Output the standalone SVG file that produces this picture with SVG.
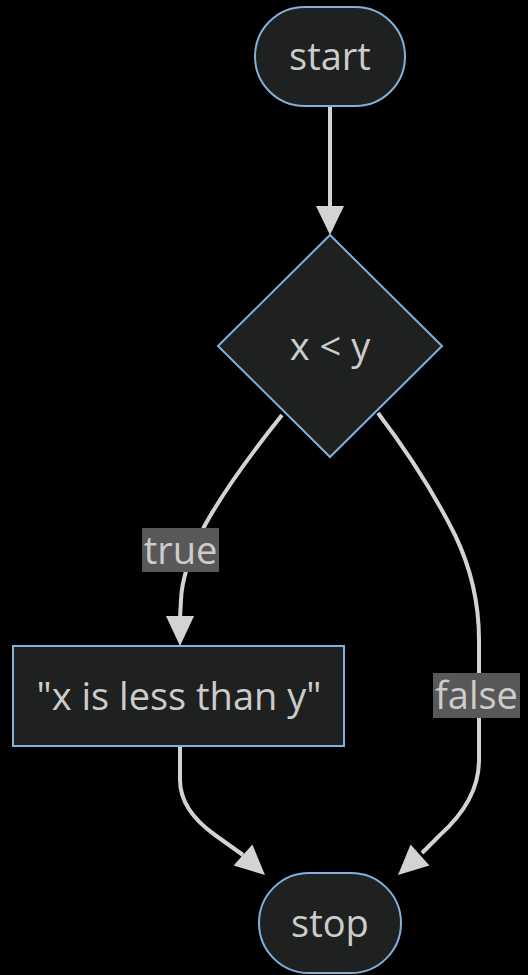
<svg xmlns="http://www.w3.org/2000/svg" width="528" height="975" viewBox="0 0 528 975">
<style>
.bg{fill:#000}
.node{fill:#1f2020;stroke:#81b1db;stroke-width:2}
.t{font-family:"Open Sans","Liberation Sans",sans-serif;font-size:38px;fill:#cccccc;text-anchor:middle;dominant-baseline:central}
.edge{fill:none;stroke:#d3d3d3;stroke-width:4}
.arrow{fill:#d3d3d3}
.lbl{fill:#585858}
</style>
<rect class="bg" x="0" y="0" width="528" height="975"/>
<g id="connectors">
<path class="edge" d="M330,107 L330,208"/>
<polygon class="arrow" points="316,206 344,206 330,235"/>
<path class="edge" d="M282,415 Q230,480 205,525 Q182,570 181,600 L180,618"/>
<polygon class="arrow" points="166,616 194,616 180,646"/>
<path class="edge" d="M378,413 Q425,475 455,535 Q479,585 479,640 L479,760 Q479,800 440,835 L422,853"/>
<polygon class="arrow" points="429.4,865.4 410.6,844.6 398,875"/>
<path class="edge" d="M180,747 L180,780 Q180,810 215,835 L243,855"/>
<polygon class="arrow" points="252.4,844.6 233.6,865.4 265,875"/>
<g id="label-true"><rect class="lbl" x="142" y="528" width="77" height="44"/><text class="t" x="180.5" y="549">true</text></g>
<g id="label-false"><rect class="lbl" x="433" y="673" width="87" height="45"/><text class="t" x="476.5" y="694">false</text></g>
</g>
<g id="start"><rect class="node" x="255" y="7" width="150" height="99" rx="49.5"/><text class="t" x="330" y="55">start</text></g>
<g id="cond"><polygon class="node" points="330,235 442,346 330,457 218,346"/><text class="t" x="330" y="345">x &lt; y</text></g>
<g id="print"><rect class="node" x="13" y="646" width="331" height="100"/><text class="t" x="179" y="695">"x is less than y"</text></g>
<g id="stop"><rect class="node" x="259" y="873" width="142" height="100" rx="50"/><text class="t" x="330" y="922">stop</text></g>
</svg>
